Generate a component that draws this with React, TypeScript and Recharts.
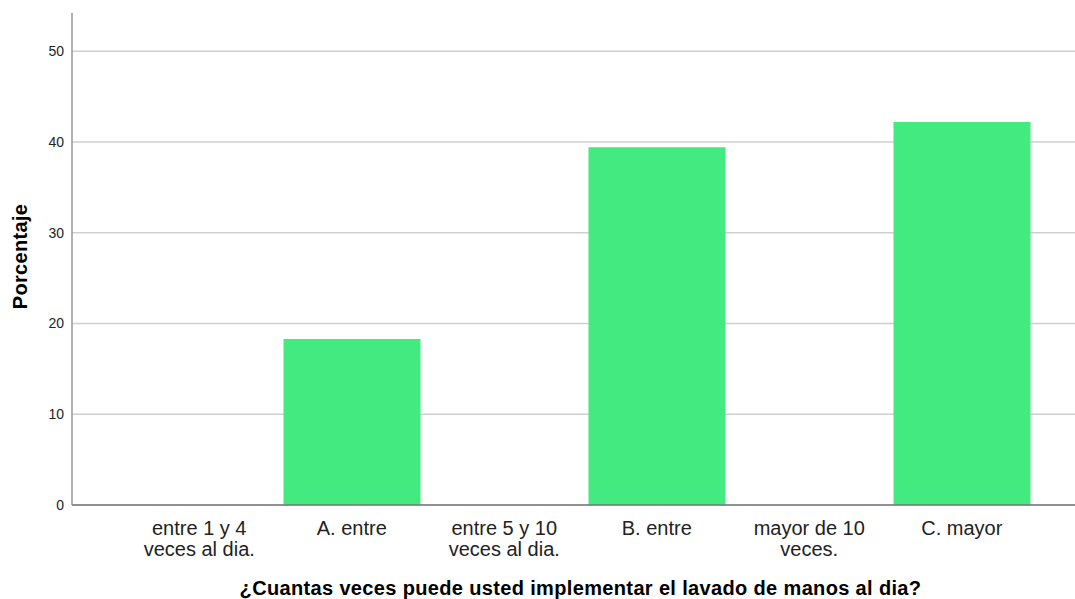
import React from "react";
import { BarChart, Bar, XAxis, YAxis, CartesianGrid } from "recharts";

const categories = [
  "entre 1 y 4\nveces al dia.",
  "A. entre",
  "entre 5 y 10\nveces al dia.",
  "B. entre",
  "mayor de 10\nveces.",
  "C. mayor",
];
const porcentaje = [0, 18.3, 0, 39.4, 0, 42.2];
const yTicks = [0, 10, 20, 30, 40, 50];

const data = categories.map((c, i) => ({ cat: c, value: porcentaje[i] }));

const FONT = "'Liberation Sans', Arial, sans-serif";

function CatTick(props: any) {
  const { x, y, payload } = props;
  const lines = String(payload.value).split("\n");
  return (
    <text x={x} y={y} textAnchor="middle" fontFamily={FONT} fontSize={20} fill="#222">
      {lines.map((l, i) => (
        <tspan key={i} x={x} dy={i === 0 ? 28 : 21}>
          {l}
        </tspan>
      ))}
    </text>
  );
}

function YTitle(props: any) {
  const { viewBox } = props;
  const cx = viewBox.x + 20;
  const cy = viewBox.y + viewBox.height / 2 - 2.5;
  return (
    <text
      x={cx}
      y={cy}
      transform={`rotate(-90 ${cx} ${cy})`}
      textAnchor="middle"
      dominantBaseline="central"
      fontFamily={FONT}
      fontWeight="bold"
      fontSize={20}
      letterSpacing={0.3}
      fill="#000"
    >
      Porcentaje
    </text>
  );
}

function XTitle(props: any) {
  const { viewBox } = props;
  const cx = viewBox.x + viewBox.width / 2 + 7;
  return (
    <text
      x={cx}
      y={595}
      textAnchor="middle"
      fontFamily={FONT}
      fontWeight="bold"
      fontSize={20}
      letterSpacing={0.35}
      fill="#000"
    >
      ¿Cuantas veces puede usted implementar el lavado de manos al dia?
    </text>
  );
}

export default function App() {
  return (
    <div style={{ position: "absolute", left: 0, top: 0, background: "#fff" }}>
      <BarChart
        width={1075}
        height={599}
        data={data}
        margin={{ top: 13, right: 0, left: 0, bottom: 0 }}
        barSize={137}
      >
        <CartesianGrid
          vertical={false}
          horizontalValues={yTicks}
          stroke="#cfcfcf"
          strokeWidth={1.5}
        />
        <XAxis
          dataKey="cat"
          height={94}
          interval={0}
          tick={<CatTick />}
          tickLine={false}
          tickSize={0}
          axisLine={{ stroke: "#777", strokeWidth: 1.5 }}
          padding={{ left: 51, right: 37 }}
          label={<XTitle />}
        />
        <YAxis
          width={72}
          domain={[0, 54.2]}
          ticks={yTicks}
          tickLine={false}
          tickMargin={2}
          axisLine={{ stroke: "#999", strokeWidth: 1.5 }}
          tick={{ fontFamily: FONT, fontSize: 14, fill: "#222" }}
          label={<YTitle />}
        />
        <Bar dataKey="value" fill="#42EA7F" isAnimationActive={false} />
      </BarChart>
    </div>
  );
}
